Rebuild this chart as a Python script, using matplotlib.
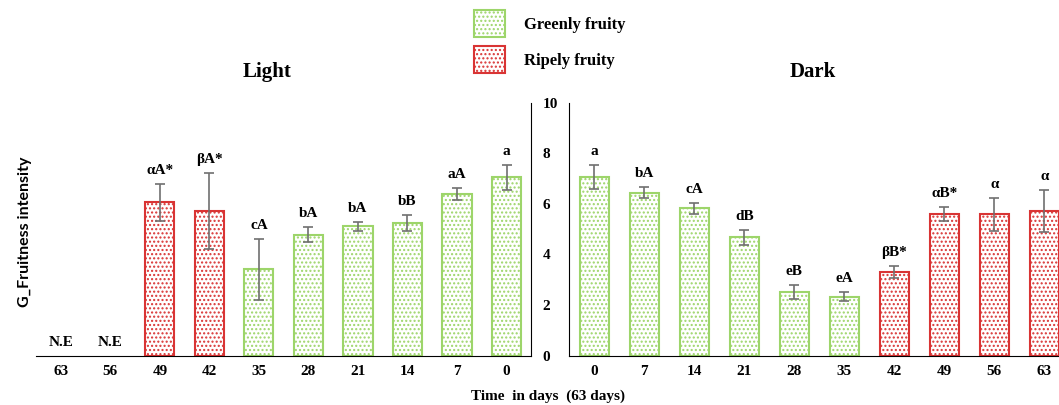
import numpy as np
import matplotlib.pyplot as plt
from matplotlib.patches import Patch

plt.rcParams['font.family'] = ['Liberation Serif', 'DejaVu Serif']
plt.rcParams['font.weight'] = 'bold'
plt.rcParams['hatch.linewidth'] = 1.0

# Light storage (days shown from 63 down to 0)
light_days = ['63', '56', '49', '42', '35', '28', '21', '14', '7', '0']
light_vals = [0, 0, 6.06, 5.72, 3.41, 4.78, 5.10, 5.25, 6.38, 7.04]
light_err = [0, 0, 0.73, 1.50, 1.20, 0.29, 0.19, 0.32, 0.24, 0.48]
light_lbl = ['N.E', 'N.E', 'αA*', 'βA*', 'cA', 'bA', 'bA', 'bB', 'aA', 'a']
light_kind = ['r', 'r', 'r', 'r', 'g', 'g', 'g', 'g', 'g', 'g']

# Dark storage
dark_days = ['0', '7', '14', '21', '28', '35', '42', '49', '56', '63']
dark_vals = [7.06, 6.44, 5.82, 4.68, 2.52, 2.33, 3.31, 5.58, 5.58, 5.72]
dark_err = [0.48, 0.23, 0.22, 0.30, 0.28, 0.19, 0.24, 0.28, 0.65, 0.82]
dark_lbl = ['a', 'bA', 'cA', 'dB', 'eB', 'eA', 'βB*', 'αB*', 'α', 'α']
dark_kind = ['g', 'g', 'g', 'g', 'g', 'g', 'r', 'r', 'r', 'r']

green = '#9dd56a'
red = '#d93434'
ecol = {'g': green, 'r': red}

fig = plt.figure(figsize=(10.59, 4.05), dpi=100)
ax1 = fig.add_axes([0.034, 0.1222, 0.4677, 0.6247])
ax2 = fig.add_axes([0.5376, 0.1222, 0.4722, 0.6247])


def draw(ax, days, vals, err, lbl, kind):
    x = np.arange(len(days))
    for i in range(len(days)):
        if vals[i] > 0:
            ax.bar(x[i], vals[i], width=0.59, color='white', edgecolor=ecol[kind[i]],
                   linewidth=1.5, hatch='....', zorder=2)
            ax.errorbar(x[i], vals[i], yerr=err[i], color='#707070', capsize=3.5,
                        elinewidth=1.2, capthick=1.2, zorder=3)
        ax.annotate(lbl[i], (x[i], vals[i] + err[i]), xytext=(0, 5),
                    textcoords='offset points', ha='center', va='bottom',
                    fontsize=11, fontweight='bold')
    ax.set_xticks(x)
    ax.set_xticklabels(days, fontsize=11, fontweight='bold')
    ax.set_xlim(-0.5, len(days) - 0.5)
    ax.set_ylim(0, 10)
    ax.tick_params(axis='x', length=0, pad=7)
    ax.spines['top'].set_visible(False)


draw(ax1, light_days, light_vals, light_err, light_lbl, light_kind)
draw(ax2, dark_days, dark_vals, dark_err, dark_lbl, dark_kind)

ax1.spines['left'].set_visible(False)
ax1.yaxis.tick_right()
ax1.set_yticks(range(0, 11, 2))
ax1.tick_params(axis='y', length=0, pad=8, labelsize=11)
ax2.spines['right'].set_visible(False)
ax2.set_yticks([])

fig.text(0.252, 0.822, 'Light', ha='center', va='center', fontsize=15, fontweight='bold')
fig.text(0.767, 0.822, 'Dark', ha='center', va='center', fontsize=15, fontweight='bold')
fig.text(0.024, 0.428, 'G_Fruitness intensity', rotation=90, ha='center', va='center',
         fontsize=11.5, fontweight='bold', family='Lato')
fig.text(0.517, 0.022, 'Time  in days  (63 days)', ha='center', va='center',
         fontsize=11, fontweight='bold')

handles = [Patch(facecolor='white', edgecolor=green, hatch='....', linewidth=1.5),
           Patch(facecolor='white', edgecolor=red, hatch='....', linewidth=1.5)]
fig.legend(handles, ['Greenly fruity', 'Ripely fruity'], loc='upper left',
           bbox_to_anchor=(0.4334, 1.012), frameon=False, prop={'size': 12, 'weight': 'bold'},
           handlelength=1.88, handleheight=2.1, labelspacing=0.55, handletextpad=1.1)

fig.savefig('out.png', dpi=100)
